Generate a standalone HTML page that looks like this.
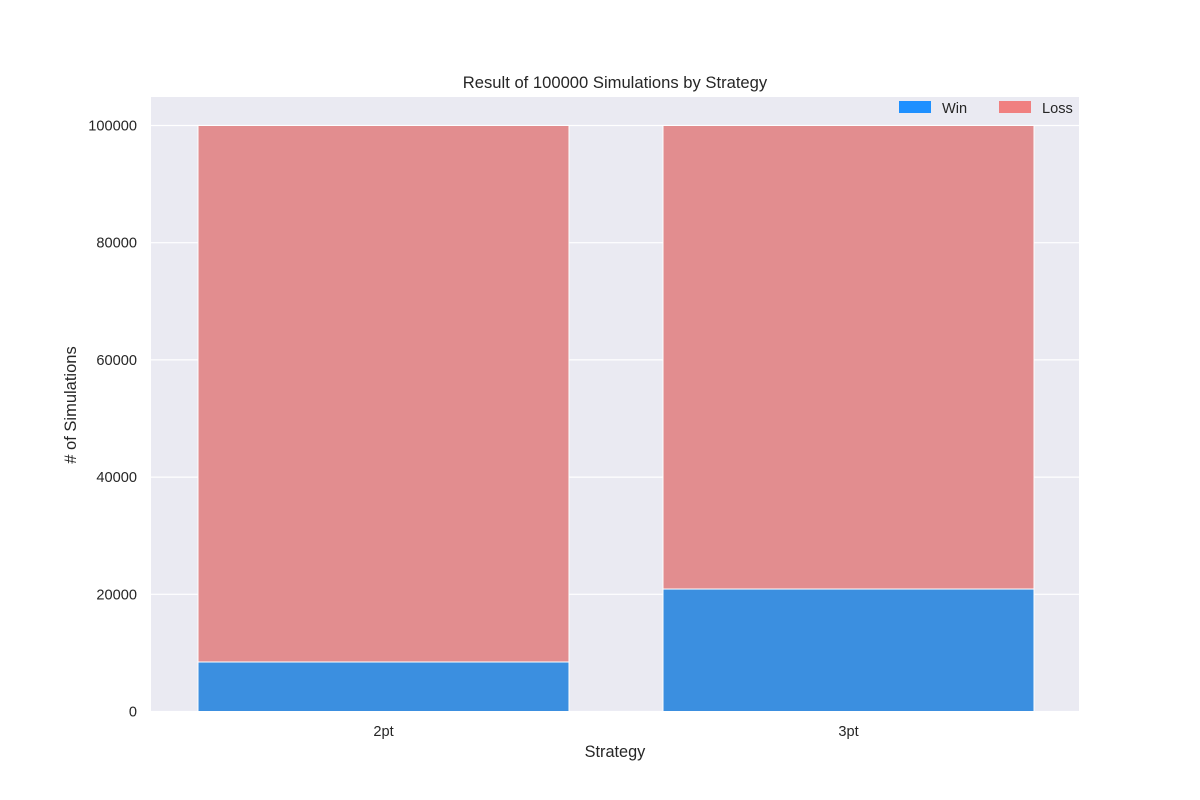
<!DOCTYPE html>
<html><head><meta charset="utf-8"><style>
body{margin:0;background:#fff;}
svg{display:block;font-family:"Liberation Sans","DejaVu Sans",sans-serif;}
</style></head><body>
<svg id="c" width="1200" height="800"></svg>
<script>
const categories=["2pt","3pt"];
const winValues=[8450,20900];
const lossValues=[91550,79100];
const yTicks=[0,20000,40000,60000,80000,100000];
const NS="http://www.w3.org/2000/svg";
const svg=document.getElementById('c');
const L=151,R=1079,T=97,B=711.5;
const yMax=100000, yPx=586;
const y=v=>B-v*yPx/yMax;
const x=i=>383.5+i*465;
const bw=371;
function mk(t,a,p){const e=document.createElementNS(NS,t);for(const k in a)e.setAttribute(k,a[k]);(p||svg).appendChild(e);return e;}
const bg=mk('rect',{x:L,y:T,width:R-L,height:B-T,fill:'#eaeaf2'});


yTicks.forEach(v=>{
 const g=mk('line',{x1:L,x2:R,y1:y(v),y2:y(v),stroke:'#fff','stroke-width':1.2});
 
 
 const t=mk('text',{x:L-14,y:y(v)+5,'text-anchor':'end','font-size':14.6,fill:'#262626'});
 t.textContent=v;
 
 
});
categories.forEach((c,i)=>{
 const w=mk('rect',{x:x(i)-bw/2,y:y(winValues[i]),width:bw,height:y(0)-y(winValues[i]),fill:'#3b8fe0',stroke:'#fff','stroke-width':1});
 
 
 const l=mk('rect',{x:x(i)-bw/2,y:y(winValues[i]+lossValues[i]),width:bw,height:y(winValues[i])-y(winValues[i]+lossValues[i]),fill:'#e28d8f',stroke:'#fff','stroke-width':1});
 
 
 const t=mk('text',{x:x(i),y:736,'text-anchor':'middle','font-size':14.6,fill:'#262626'});
 t.textContent=c;
 
 
});
</script>
<svg style="position:absolute;left:0;top:0" width="1200" height="800">
<text x="615" y="88" text-anchor="middle" font-size="16.6" fill="#262626">Result of 100000 Simulations by Strategy</text>
<text x="615" y="757" text-anchor="middle" font-size="16.3" fill="#262626">Strategy</text>
<text x="0" y="0" transform="translate(76,405) rotate(-90)" text-anchor="middle" font-size="16.5" fill="#262626"># of Simulations</text>
<g>
<rect x="899" y="101" width="32" height="12" fill="#1e90ff"/>
<text x="942" y="113" font-size="14.6" fill="#262626">Win</text>
<rect x="999" y="101" width="32" height="12" fill="#f08080"/>
<text x="1042" y="113" font-size="14.6" fill="#262626">Loss</text>
</g>
</svg>
</body></html>
